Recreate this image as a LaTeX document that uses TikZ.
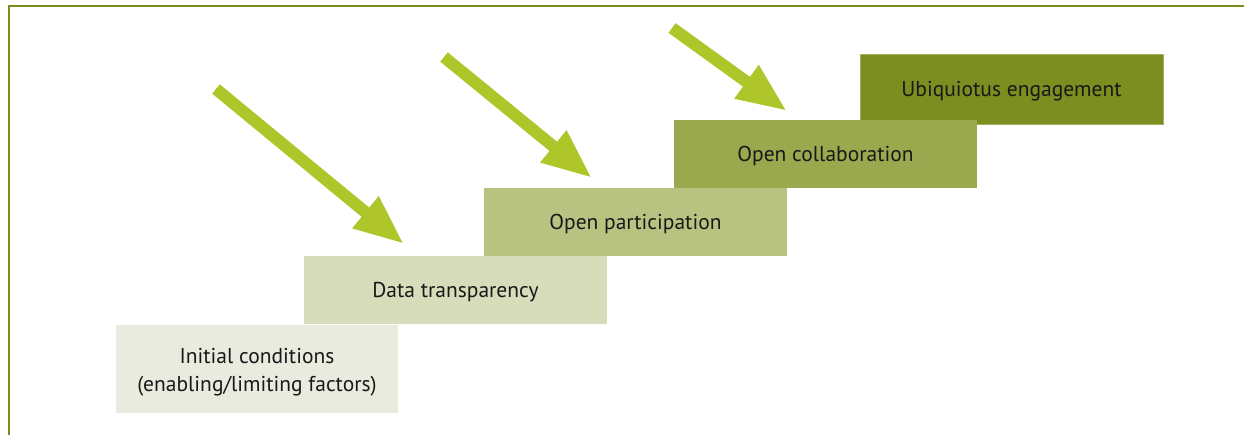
\documentclass[tikz,border=0pt]{standalone}
\usepackage{fontspec}
\setmainfont{PT Sans}
\usetikzlibrary{arrows.meta,positioning}
\definecolor{frameolive}{HTML}{7A8E1E}
\definecolor{arrowlime}{HTML}{AEC62A}
\definecolor{stepA}{HTML}{EAEBDF}
\definecolor{stepB}{HTML}{D7DDBA}
\definecolor{stepC}{HTML}{B8C382}
\definecolor{stepD}{HTML}{9AA84E}
\definecolor{stepE}{HTML}{7B8E1F}
\tikzstyle{stair} = [rectangle, inner sep=0pt, minimum width=303pt, minimum height=68pt, text height=16pt, text depth=0pt, align=center, text=black!90, font=\fontsize{21.5}{28}\selectfont]
\tikzstyle{push} = [draw=arrowlime, line width=12pt, -{Triangle[width=38pt,length=50pt]}]

\begin{document}
\begin{tikzpicture}[x=1pt,y=-1pt]
\useasboundingbox (0,0) rectangle (1244,435);
% frame
\draw[frameolive, line width=2.5pt] (9,435) -- (9,6) -- (1244,6);

% the stairs, top step first
\node[stair, fill=stepE, draw=stepE!70!white, line width=0.8pt, minimum height=70pt] (engage) at (1011.5,89) {Ubiquiotus engagement};
\node[stair, fill=stepD] (collab) at (825.5,154) {Open collaboration};
\node[stair, fill=stepC] (partic) at (635.5,222) {Open participation};
\node[stair, fill=stepB] (transp) at (455.5,290) {Data transparency};
\node[stair, fill=stepA, minimum width=282pt, minimum height=88pt, text height=44pt] (init) at (257,369) {Initial conditions\\(enabling/limiting factors)};

% arrows
\coordinate (tailA) at (216,89);
\coordinate (tipA) at (404,244);
\coordinate (tailB) at (444,57);
\coordinate (tipB) at (592,178);
\coordinate (tailC) at (672,28);
\coordinate (tipC) at (787,111);
\draw[push] (tailA) -- (tipA);
\draw[push] (tailB) -- (tipB);
\draw[push] (tailC) -- (tipC);
\end{tikzpicture}
\end{document}
